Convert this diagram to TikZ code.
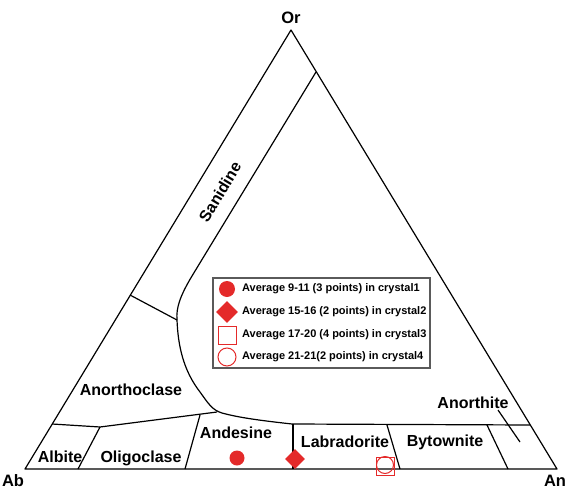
\documentclass[tikz,border=0pt]{standalone}
\usepackage{fontspec}
\setmainfont{Liberation Sans}
\usetikzlibrary{shapes.geometric}
\definecolor{mred}{RGB}{228,42,42}
\definecolor{lgray}{RGB}{90,90,90}
\tikzset{
  edge/.style={line width=1.2pt, black, line join=round},
  mineral/.style={font=\fontsize{16}{19}\selectfont\bfseries, inner sep=0pt},
  corner/.style={font=\fontsize{16.5}{20}\selectfont\bfseries, inner sep=0pt, anchor=base},
  legtext/.style={font=\fontsize{11}{13}\selectfont\bfseries, anchor=west, inner sep=0pt},
  fdot/.style={circle, fill=mred, draw=none, minimum size=15pt, inner sep=0pt},
  fdiam/.style={diamond, fill=mred, draw=none, minimum size=20pt, inner sep=0pt},
  osq/.style={rectangle, draw=mred, line width=1pt, minimum size=18pt, inner sep=0pt},
  odot/.style={circle, draw=mred, line width=1pt, minimum size=17pt, inner sep=0pt}
}
\begin{document}
\begin{tikzpicture}[x=1pt,y=-1pt]
\useasboundingbox (0,0) rectangle (568,490);
% vertices
\coordinate (or) at (291,30);
\coordinate (ab) at (25,469);
\coordinate (an) at (557,469);
\draw[edge] (or) -- (ab) -- (an) -- cycle;
% Sanidine / alkali-feldspar boundary
\draw[edge] (316,72) -- (192,276) .. controls (180,296) and (176,308) .. (177,320)
  .. controls (178,345) and (183,370) .. (200,392)
  .. controls (208,403) and (212,410) .. (222,413)
  .. controls (240,418) and (265,421) .. (292,424) -- (530,425);
% Anorthoclase lower limit
\draw[edge] (130,295) -- (177,320);
% Plagioclase top
\draw[edge] (52,424) -- (100,427) -- (217,412);
% dividers
\draw[edge] (100,427) -- (78,469);
\draw[edge] (200,415) -- (185,469);
\draw[edge] (293,424) -- (293,469);
\draw[edge] (387,425) -- (400,469);
\draw[edge] (487,425) -- (508,469);
\draw[edge] (498,410) -- (520,442);
% labels
\node[corner] (lor) at (291,23) {Or};
\node[corner] (lab) at (13,486) {Ab};
\node[corner] (lan) at (555,486) {An};
\node[mineral, rotate=59] (san) at (220,192) {Sanidine};
\node[mineral] (anc) at (131,390) {Anorthoclase};
\node[mineral] (alb) at (60,457) {Albite};
\node[mineral] (oli) at (141,458) {Oligoclase};
\node[mineral] (and) at (236,433) {Andesine};
\node[mineral] (lbr) at (345,442) {Labradorite};
\node[mineral] (byt) at (445,442) {Bytownite};
\node[mineral] (ant) at (473,403) {Anorthite};
% data points
\node[fdot] (p1) at (237,458) {};
\node[fdiam] (p2) at (295,459) {};
\node[osq] (p3) at (385,466) {};
\node[odot] (p4) at (385,465) {};
% legend
\draw[lgray, line width=1.2pt] (213,278) rectangle (430,368);
\node[fdot, minimum size=16pt] (l1) at (227,289) {};
\node[fdiam, minimum size=22pt] (l2) at (227,312) {};
\node[osq] (l3) at (227,335) {};
\node[odot, minimum size=18pt] (l4) at (227,357) {};
\node[legtext] (t1) at (242,289) {Average 9-11 (3 points) in crystal1};
\node[legtext] (t2) at (242,312) {Average 15-16 (2 points) in crystal2};
\node[legtext] (t3) at (242,335) {Average 17-20 (4 points) in crystal3};
\node[legtext] (t4) at (242,357) {Average 21-21(2 points) in crystal4};
\end{tikzpicture}
\end{document}
